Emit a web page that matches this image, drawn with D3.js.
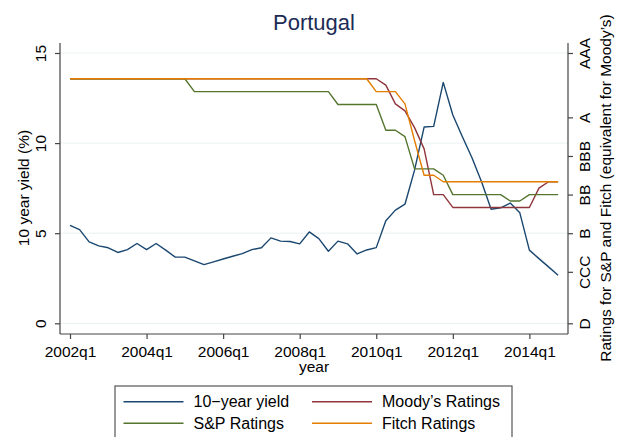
<!DOCTYPE html>
<html lang="en">
<head>
    <meta charset="UTF-8">
    <title>Portugal</title>
</head>

<style>
  body {
    margin: 0;
    background: white;
  }

  text {
    font-family: "Liberation Sans", Arial, sans-serif;
    fill: #000;
  }

  .grid {
    stroke: #eaf2f3;
    stroke-width: 1;
  }

  .axisline {
    stroke: #444;
    stroke-width: 1.2;
    fill: none;
  }

  .series {
    fill: none;
    stroke-width: 1.4;
    stroke-linejoin: round;
  }
</style>

<body>

<div id="chart">
    <script src="https://cdnjs.cloudflare.com/ajax/libs/d3/7.8.5/d3.min.js"></script>

    <script type="text/javascript">

// Data (quarterly, 2002q1 .. 2014q4)

      var quarters = d3.range(2002, 2015).flatMap(function (y) {
        return [1, 2, 3, 4].map(function (q) { return y + 'q' + q; });
      });

      var yieldVals = [5.44, 5.2, 4.52, 4.3, 4.19, 3.93, 4.09, 4.43, 4.09, 4.43, 4.06, 3.67, 3.67, 3.46, 3.26, 3.41,
                       3.57, 3.72, 3.87, 4.09, 4.19, 4.74, 4.56, 4.54, 4.41, 5.07, 4.7, 4.0, 4.56, 4.41, 3.85, 4.07,
                       4.2, 5.69, 6.28, 6.61, 8.5, 10.89, 10.93, 13.37, 11.56, 10.35, 9.19, 7.85, 6.33, 6.41, 6.67, 6.13,
                       4.06, 3.59, 3.13, 2.67];

      // ratings in notches: D = 0 ... AAA = 21
      var moodys = [19, 19, 19, 19, 19, 19, 19, 19, 19, 19, 19, 19, 19, 19, 19, 19,
                    19, 19, 19, 19, 19, 19, 19, 19, 19, 19, 19, 19, 19, 19, 19, 19,
                    19, 18.5, 17.05, 16.5, 15.2, 13.55, 10, 10, 9, 9, 9, 9, 9, 9, 9, 9,
                    9, 10.5, 11, 11];

      var sp = [19, 19, 19, 19, 19, 19, 19, 19, 19, 19, 19, 19, 19, 18, 18, 18,
                18, 18, 18, 18, 18, 18, 18, 18, 18, 18, 18, 18, 17, 17, 17, 17,
                17, 15, 15, 14.5, 12, 12, 12, 11.5, 10, 10, 10, 10, 10, 10, 9.5, 9.5,
                10, 10, 10, 10];

      var fitch = [19, 19, 19, 19, 19, 19, 19, 19, 19, 19, 19, 19, 19, 19, 19, 19,
                   19, 19, 19, 19, 19, 19, 19, 19, 19, 19, 19, 19, 19, 19, 19, 19,
                   18, 18, 18, 17.05, 14.2, 11.5, 11.5, 11, 11, 11, 11, 11, 11, 11, 11, 11,
                   11, 11, 11, 11];

      var yieldTicks = [0, 5, 10, 15];
      var ratingTicks = [21, 16, 13, 10, 7, 4, 0];
      var ratingLabels = ['AAA', 'A', 'BBB', 'BB', 'B', 'CCC', 'D'];
      var xTicks = [0, 8, 16, 24, 32, 40, 48];

      var series = [
        { name: '10\u2212year yield', values: yieldVals, axis: 'left', color: '#1a476f' },
        { name: 'Moody\u2019s Ratings', values: moodys, axis: 'right', color: '#90353b' },
        { name: 'S&P Ratings', values: sp, axis: 'right', color: '#55752f' },
        { name: 'Fitch Ratings', values: fitch, axis: 'right', color: '#e37e00' }
      ];

// Dimensions

      var width = 624,
          height = 437,
          plotLeft = 60,
          plotRight = 568,
          plotTop = 43,
          plotBottom = 334;

      var svg = d3.select('#chart').append('svg')
          .attr('width', width)
          .attr('height', height);

      var x = d3.scaleLinear().domain([0, 51]).range([70, 558.1]),
          yL = d3.scaleLinear().domain([0, 15]).range([323.3, 53]),
          yR = d3.scaleLinear().domain([0, 21]).range([323.3, 53]);

// Grid

      svg.selectAll('line.grid')
        .data(yieldTicks)
        .enter()
        .append('line')
        .attr('class', 'grid')
        .attr('x1', plotLeft)
        .attr('x2', plotRight)
        .attr('y1', yL)
        .attr('y2', yL);

// Lines

      series.forEach(function (s) {
        var yS = s.axis === 'left' ? yL : yR;
        var line = d3.line()
          .x(function (d, i) { return x(i); })
          .y(function (d) { return yS(d); });
        svg.append('path')
          .datum(s.values)
          .attr('class', 'series')
          .attr('stroke', s.color)
          .attr('d', line);
      });

// Axes

      var axisL = svg.append('g')
        .attr('transform', 'translate(' + plotLeft + ',0)')
        .call(d3.axisLeft(yL).tickValues(yieldTicks).tickSize(5).tickFormat(''));

      axisL.selectAll('.tick').append('text')
        .attr('transform', 'translate(-14,0) rotate(-90)')
        .attr('text-anchor', 'middle')
        .attr('font-size', 15.5)
        .text(function (d) { return d; });

      var axisR = svg.append('g')
        .attr('transform', 'translate(' + plotRight + ',0)')
        .call(d3.axisRight(yR).tickValues(ratingTicks).tickSize(5).tickFormat(''));

      axisR.selectAll('.tick').append('text')
        .attr('transform', 'translate(22,0) rotate(-90)')
        .attr('text-anchor', 'middle')
        .attr('font-size', 15.5)
        .text(function (d, i) { return ratingLabels[i]; });

      var axisB = svg.append('g')
        .attr('transform', 'translate(0,' + plotBottom + ')')
        .call(d3.axisBottom(x).tickValues(xTicks).tickSize(5).tickFormat(''));

      axisB.selectAll('.tick').append('text')
        .attr('y', 23)
        .attr('text-anchor', 'middle')
        .attr('font-size', 15.5)
        .text(function (d) { return quarters[d]; });

      svg.selectAll('.domain').remove();
      svg.selectAll('.tick line').attr('stroke', '#444').attr('stroke-width', 1.2);
      svg.selectAll('.tick text').attr('fill', '#000');

      svg.append('line').attr('class', 'axisline').attr('x1', plotLeft).attr('x2', plotLeft).attr('y1', plotTop).attr('y2', plotBottom);
      svg.append('line').attr('class', 'axisline').attr('x1', plotRight).attr('x2', plotRight).attr('y1', plotTop).attr('y2', plotBottom);
      svg.append('line').attr('class', 'axisline').attr('x1', plotLeft).attr('x2', plotRight).attr('y1', plotBottom).attr('y2', plotBottom);

// Titles

      svg.append('text')
        .attr('x', 314)
        .attr('y', 30)
        .attr('text-anchor', 'middle')
        .attr('font-size', 22)
        .style('fill', '#1c2b56')
        .text('Portugal');

      svg.append('text')
        .attr('transform', 'translate(29,188) rotate(-90)')
        .attr('text-anchor', 'middle')
        .attr('font-size', 15.5)
        .text('10 year yield (%)');

      svg.append('text')
        .attr('transform', 'translate(611,188) rotate(-90)')
        .attr('text-anchor', 'middle')
        .attr('font-size', 15.5)
        .text('Ratings for S&P and Fitch (equivalent for Moody\u2019s)');

      svg.append('text')
        .attr('x', 314)
        .attr('y', 372)
        .attr('text-anchor', 'middle')
        .attr('font-size', 15.5)
        .text('year');

// Legend

      var legend = svg.append('g');

      legend.append('rect')
        .attr('x', 115)
        .attr('y', 386)
        .attr('width', 397)
        .attr('height', 60)
        .attr('fill', 'white')
        .attr('stroke', '#555')
        .attr('stroke-width', 1.2);

      var items = legend.selectAll('g.item')
        .data(series)
        .enter()
        .append('g')
        .attr('transform', function (d, i) {
          return 'translate(' + (i % 2 === 0 ? 123.5 : 312) + ',' + (i < 2 ? 401.7 : 423.3) + ')';
        });

      items.append('line')
        .attr('x1', 0)
        .attr('x2', 60)
        .attr('stroke', function (d) { return d.color; })
        .attr('stroke-width', 1.4);

      items.append('text')
        .attr('x', 70)
        .attr('y', 5.5)
        .attr('font-size', 16)
        .text(function (d) { return d.name; });
    </script>
</div>
</body>
</html>
